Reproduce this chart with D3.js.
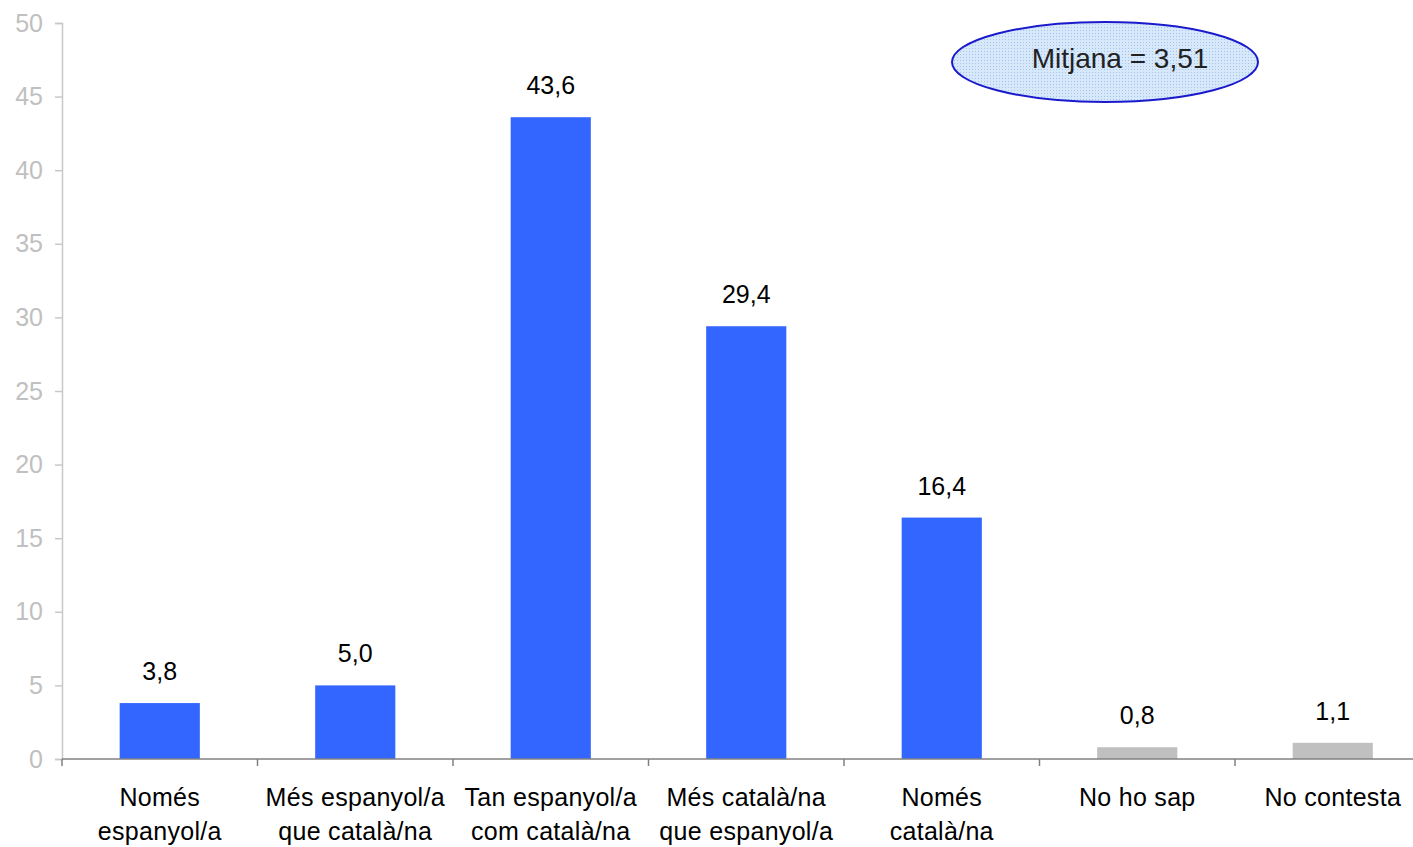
<!DOCTYPE html>
<html><head><meta charset="utf-8">
<script src="https://cdn.jsdelivr.net/npm/d3@7"></script>
<style>body{margin:0;background:#fff}svg{display:block}text{font-family:"Liberation Sans",Arial,sans-serif}</style>
</head><body><svg id="c" width="1413" height="847"></svg>
<script>
const categories = [["Només","espanyol/a"],["Més espanyol/a","que català/na"],["Tan espanyol/a","com català/na"],["Més català/na","que espanyol/a"],["Només","català/na"],["No ho sap"],["No contesta"]];
const values = [3.8, 5.0, 43.6, 29.4, 16.4, 0.8, 1.1];
const valueLabels = ["3,8","5,0","43,6","29,4","16,4","0,8","1,1"];
const colors = ["#3366ff","#3366ff","#3366ff","#3366ff","#3366ff","#c0c0c0","#c0c0c0"];
const yTicks = [0,5,10,15,20,25,30,35,40,45,50];
const meanText = "Mitjana = 3,51";

const svg = d3.select("#c");
const x = d3.scaleBand().domain(d3.range(values.length)).range([62, 1430.5]).paddingInner(0.59).paddingOuter(0.295);
const y = d3.scaleLinear().domain([0,50]).range([759,23]);

// y axis
const ya = svg.append("g").attr("transform","translate(62,0)").call(d3.axisLeft(y).tickValues(yTicks).tickSize(7).tickPadding(12));
ya.select(".domain").attr("stroke","#c8c8c8").attr("stroke-width",1.5);
ya.selectAll(".tick line").attr("stroke","#c8c8c8").attr("stroke-width",1.5);
ya.selectAll(".tick text").attr("fill","#c0c0c0").attr("font-size",25).attr("font-family","Liberation Sans, Arial, sans-serif");

// bars
svg.selectAll("rect.bar").data(values).join("rect").attr("class","bar")
  .attr("x",(d,i)=>x(i)).attr("width",x.bandwidth())
  .attr("y",d=>y(d)).attr("height",d=>y(0)-y(d)).attr("fill",(d,i)=>colors[i]);

// x axis
const xb = d3.scaleBand().domain(d3.range(values.length)).range([62,1430.5]);
svg.append("line").attr("x1",62).attr("x2",1413).attr("y1",y(0)).attr("y2",y(0)).attr("stroke","#808080").attr("stroke-width",1.5);
svg.selectAll("line.xt").data(d3.range(values.length+1)).join("line").attr("class","xt")
  .attr("x1",i=>62+i*xb.step()).attr("x2",i=>62+i*xb.step()).attr("y1",y(0)).attr("y2",y(0)+7)
  .attr("stroke","#808080").attr("stroke-width",1.5);

// value labels
svg.selectAll("text.vl").data(values).join("text").attr("class","vl")
  .attr("x",(d,i)=>x(i)+x.bandwidth()/2).attr("y",d=>y(d)-23)
  .attr("text-anchor","middle").attr("font-size",25).attr("fill","#000")
  .text((d,i)=>valueLabels[i]);

// category labels
const cl = svg.selectAll("text.cl").data(categories).join("text").attr("class","cl")
  .attr("text-anchor","middle").attr("font-size",25).attr("letter-spacing",0.3).attr("fill","#000");
cl.each(function(lines,i){
  const t = d3.select(this);
  lines.forEach((ln,j)=>t.append("tspan").attr("x",xb(i)+xb.bandwidth()/2).attr("y",806+j*34).text(ln));
});

// mean ellipse
const defs = svg.append("defs");
const pat = defs.append("pattern").attr("id","dots").attr("width",3).attr("height",3).attr("patternUnits","userSpaceOnUse");
pat.append("rect").attr("width",3).attr("height",3).attr("fill","#d6e8fa");
pat.append("rect").attr("width",1).attr("height",1).attr("fill","#a2c6ee");
svg.append("ellipse").attr("cx",1105).attr("cy",62).attr("rx",153).attr("ry",40)
  .attr("fill","url(#dots)").attr("stroke","#1a1acc").attr("stroke-width",2);
svg.append("text").attr("x",1120).attr("y",68).attr("text-anchor","middle").attr("font-size",28).attr("fill","#222").text(meanText);
</script></body></html>
